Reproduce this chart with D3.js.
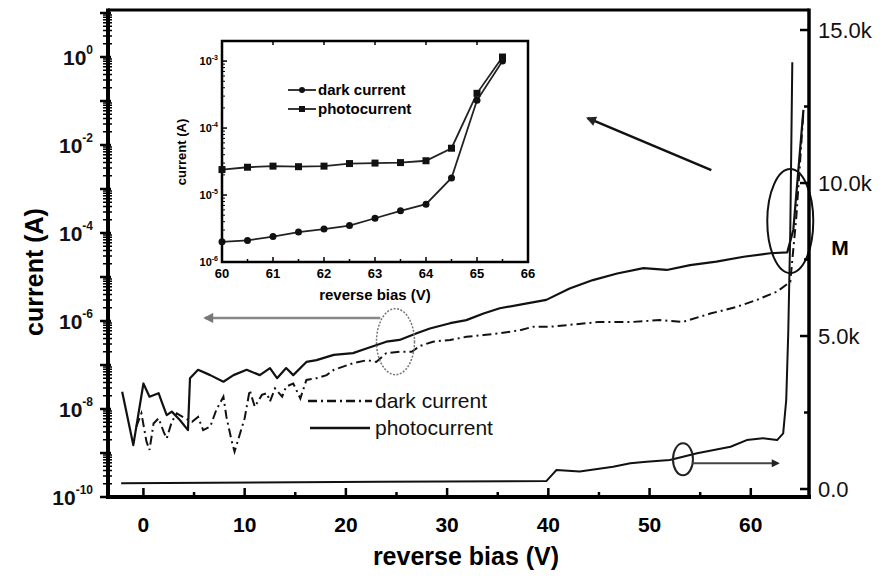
<!DOCTYPE html>
<html>
<head>
<meta charset="utf-8">
<script src="https://cdn.jsdelivr.net/npm/d3@7"></script>
<style>
  body { margin: 0; background: #fff; }
  svg { display: block; font-family: "Liberation Sans", Arial, sans-serif; }
</style>
</head>
<body>
<div id="container"></div>
<script>
// main chart: reverse bias (V) vs current (log10 A)
let photoV = [-2.1,-1.0,0.0,0.6,1.5,1.8,2.3,2.8,3.6,4.4,4.6,5.4,6.6,7.9,8.9,10.2,11.5,12.5,13.2,14.1,14.8,16.1,17.1,18.8,20.7,22.1,24.0,25.3,27.0,28.3,30.3,31.9,33.6,35.2,37.9,39.8,42.1,44.4,46.8,49.4,51.7,54.0,56.6,59.3,61.9,63.6,64.2,65.2];
let photoLogI = [-7.61,-8.82,-7.42,-7.72,-7.64,-7.83,-8.14,-8.06,-8.25,-8.48,-7.30,-7.11,-7.23,-7.38,-7.23,-7.11,-7.23,-7.07,-7.30,-7.07,-7.23,-6.93,-6.89,-6.77,-6.73,-6.62,-6.47,-6.43,-6.28,-6.17,-6.05,-5.98,-5.83,-5.71,-5.60,-5.52,-5.26,-5.07,-4.92,-4.80,-4.84,-4.73,-4.65,-4.54,-4.46,-4.44,-3.93,-1.2];

let darkV = [-0.7,-0.2,0.3,0.6,1.0,1.5,2.0,2.3,2.8,3.3,4.1,4.8,5.4,5.9,6.6,7.2,7.9,8.2,8.7,9.0,9.5,10.0,10.5,11.0,11.7,12.2,12.5,13.0,13.7,14.1,14.8,15.5,16.1,17.1,18.1,18.8,20.7,22.1,23.0,24.0,25.3,26.5,27.3,28.6,30.3,31.9,33.6,35.2,37.2,38.5,40.2,45.1,48.4,51.0,53.3,56.0,58.6,60.6,62.6,63.9,64.5,65.2];
let darkLogI = [-8.40,-8.10,-8.74,-8.93,-8.33,-8.21,-8.52,-8.67,-8.29,-8.10,-8.21,-8.29,-8.18,-8.48,-8.40,-8.02,-7.72,-8.18,-8.71,-8.97,-8.59,-8.21,-7.57,-7.95,-7.68,-7.64,-7.83,-7.53,-7.72,-7.49,-7.42,-7.76,-7.34,-7.30,-7.23,-7.11,-6.96,-6.89,-6.93,-6.73,-6.70,-6.70,-6.57,-6.47,-6.43,-6.36,-6.32,-6.28,-6.21,-6.13,-6.13,-6.02,-6.02,-5.98,-6.02,-5.83,-5.68,-5.52,-5.33,-5.11,-3.63,-1.25];

// gain M (right axis)
let gainV = [-2.2,23.4,39.8,40.5,40.8,43.1,46.4,48.1,49.7,52.0,54.7,58.0,59.6,61.2,62.6,63.2,63.5,63.7,63.9,64.1];
let gainM = [190,240,260,510,620,570,730,840,890,950,1170,1380,1600,1660,1600,1820,2910,5100,8400,13950];

// inset: 60-66 V
let insetV = [60,60.5,61,61.5,62,62.5,63,63.5,64,64.5,65,65.5];
let insetPhoto = [2.4e-5,2.6e-5,2.7e-5,2.65e-5,2.7e-5,2.95e-5,3.0e-5,3.05e-5,3.25e-5,5.0e-5,3.3e-4,1.15e-3];
let insetDark = [2.0e-6,2.1e-6,2.4e-6,2.8e-6,3.1e-6,3.5e-6,4.5e-6,5.8e-6,7.3e-6,1.8e-5,2.6e-4,1.0e-3];

// tick labels
let xTicks = [0,10,20,30,40,50,60];
let yExps = [0,-2,-4,-6,-8,-10];
let mTicks = [0,5000,10000,15000];
let mLabels = ["0.0","5.0k","10.0k","15.0k"];
let insetXTicks = [60,61,62,63,64,65,66];
let insetYExps = [-3,-4,-5,-6];

let w = 885;
let h = 581;
let pLeft = 108, pRight = 809, pTop = 10, pBottom = 497;

let viz = d3.select("#container")
  .append("svg")
    .attr("width", w)
    .attr("height", h)
;
viz.append("rect").attr("width", w).attr("height", h).attr("fill", "white");

let xScale = d3.scaleLinear().domain([-3.5, 65.75]).range([pLeft, pRight]);
let yScale = d3.scaleLog().domain([1e-10, Math.pow(10, 1.068)]).range([pBottom, pTop]);
let mScale = d3.scaleLinear().domain([-261, 15654]).range([pBottom, pTop]);

function zip(xs, ys){
  return xs.map(function(x, i){ return {x: x, y: ys[i]}; });
}
let photoData = zip(photoV, photoLogI.map(function(v){ return Math.pow(10, v); }));
let darkData = zip(darkV, darkLogI.map(function(v){ return Math.pow(10, v); }));
let gainData = zip(gainV, gainM);

// ---- curves
let currentLine = d3.line()
  .x(function(d){ return xScale(d.x); })
  .y(function(d){ return yScale(d.y); })
;
let gainLine = d3.line()
  .x(function(d){ return xScale(d.x); })
  .y(function(d){ return mScale(d.y); })
;

viz.append("path").datum(darkData)
  .attr("d", currentLine).attr("fill", "none").attr("stroke", "#111")
  .attr("stroke-width", 2).attr("stroke-dasharray", "9,4,2,4");
viz.append("path").datum(photoData)
  .attr("d", currentLine).attr("fill", "none").attr("stroke", "#111")
  .attr("stroke-width", 2.2).attr("stroke-linejoin", "round");
viz.append("path").datum(gainData)
  .attr("d", gainLine).attr("fill", "none").attr("stroke", "#111")
  .attr("stroke-width", 2).attr("stroke-linejoin", "round");

// ---- annotations (ellipses and arrows), placed in data units
let defs = viz.append("defs");
function arrowHead(id, color){
  defs.append("marker").attr("id", id)
    .attr("viewBox", "0 0 10 10").attr("refX", 8).attr("refY", 5)
    .attr("markerWidth", 5).attr("markerHeight", 4).attr("orient", "auto")
    .append("path").attr("d", "M0,0 L10,5 L0,10 Z").attr("fill", color);
}
arrowHead("ahGray", "#777");
arrowHead("ahDark", "#222");

// gray arrow -> left axis
viz.append("line")
  .attr("x1", xScale(23.4)).attr("x2", xScale(6.1))
  .attr("y1", yScale(Math.pow(10, -5.93))).attr("y2", yScale(Math.pow(10, -5.93)))
  .attr("stroke", "#888").attr("stroke-width", 2.5).attr("marker-end", "url(#ahGray)");
viz.append("ellipse")
  .attr("cx", xScale(24.9)).attr("cy", yScale(Math.pow(10, -6.47)))
  .attr("rx", 19).attr("ry", 33)
  .attr("fill", "none").attr("stroke", "#777").attr("stroke-width", 1.5).attr("stroke-dasharray", "2,1.5");

// small ellipse on gain curve + arrow -> right axis
viz.append("ellipse")
  .attr("cx", xScale(53.3)).attr("cy", mScale(970))
  .attr("rx", 10).attr("ry", 16)
  .attr("fill", "none").attr("stroke", "#222").attr("stroke-width", 2);
viz.append("line")
  .attr("x1", xScale(54.2)).attr("x2", xScale(62.7))
  .attr("y1", mScale(840)).attr("y2", mScale(840))
  .attr("stroke", "#444").attr("stroke-width", 2).attr("marker-end", "url(#ahDark)");

// big ellipse at breakdown + arrow towards inset
viz.append("ellipse")
  .attr("cx", xScale(63.9)).attr("cy", yScale(Math.pow(10, -3.73)))
  .attr("rx", 23).attr("ry", 52)
  .attr("fill", "none").attr("stroke", "#111").attr("stroke-width", 2);
viz.append("line")
  .attr("x1", xScale(56.1)).attr("x2", xScale(43.9))
  .attr("y1", yScale(Math.pow(10, -2.57))).attr("y2", yScale(Math.pow(10, -1.39)))
  .attr("stroke", "#111").attr("stroke-width", 2.5).attr("marker-end", "url(#ahDark)");

// ---- main legend
let legend = viz.append("g").attr("transform", "translate(308,401)");
legend.append("line").attr("x1", 0).attr("x2", 64).attr("y1", 0).attr("y2", 0)
  .attr("stroke", "#111").attr("stroke-width", 2.5).attr("stroke-dasharray", "9,4,2,4");
legend.append("line").attr("x1", 2).attr("x2", 62).attr("y1", 27).attr("y2", 27)
  .attr("stroke", "#111").attr("stroke-width", 2.5);
legend.append("text").attr("x", 67).attr("y", 7).text("dark current")
  .attr("font-size", 21).attr("fill", "#111");
legend.append("text").attr("x", 67).attr("y", 34).text("photocurrent")
  .attr("font-size", 21).attr("fill", "#111");

// ---- frame and axes
let frame = viz.append("g").attr("stroke", "#000").attr("fill", "none");
frame.append("line").attr("x1", pLeft).attr("x2", pRight).attr("y1", pTop).attr("y2", pTop).attr("stroke-width", 3);
frame.append("line").attr("x1", pLeft).attr("x2", pLeft).attr("y1", pTop - 1.5).attr("y2", pBottom + 2).attr("stroke-width", 4);
frame.append("line").attr("x1", pRight).attr("x2", pRight).attr("y1", pTop - 1.5).attr("y2", pBottom + 2).attr("stroke-width", 3.5);
frame.append("line").attr("x1", pLeft - 2).attr("x2", pRight + 2).attr("y1", pBottom).attr("y2", pBottom).attr("stroke-width", 4);

// x axis ticks (inward)
let xMinor = d3.range(5, 60, 10);
viz.selectAll(".xmaj").data(xTicks).enter().append("line")
  .attr("x1", function(d){ return xScale(d); }).attr("x2", function(d){ return xScale(d); })
  .attr("y1", pBottom).attr("y2", pBottom - 9)
  .attr("stroke", "#000").attr("stroke-width", 2.5);
viz.selectAll(".xmin").data(xMinor).enter().append("line")
  .attr("x1", function(d){ return xScale(d); }).attr("x2", function(d){ return xScale(d); })
  .attr("y1", pBottom).attr("y2", pBottom - 5)
  .attr("stroke", "#000").attr("stroke-width", 2.5);
viz.selectAll(".xlab").data(xTicks).enter().append("text")
  .attr("x", function(d){ return xScale(d); }).attr("y", 532)
  .attr("text-anchor", "middle").attr("font-size", 21).attr("font-weight", "bold")
  .text(function(d){ return d; });

// left log axis: majors every decade, minors 2..9
let decades = d3.range(-10, 2);
let minorVals = [];
decades.forEach(function(e){
  for(let m = 2; m < 10; m++){
    let v = m * Math.pow(10, e);
    if(yScale(v) > pTop + 2) minorVals.push(v);
  }
});
viz.selectAll(".ymaj").data(decades.filter(function(e){ return yScale(Math.pow(10, e)) > pTop; })).enter().append("line")
  .attr("x1", pLeft - 8).attr("x2", pLeft + 3)
  .attr("y1", function(e){ return yScale(Math.pow(10, e)); }).attr("y2", function(e){ return yScale(Math.pow(10, e)); })
  .attr("stroke", "#000").attr("stroke-width", 2.5);
viz.selectAll(".ymin").data(minorVals).enter().append("line")
  .attr("x1", pLeft - 5).attr("x2", pLeft + 4)
  .attr("y1", function(d){ return yScale(d); }).attr("y2", function(d){ return yScale(d); })
  .attr("stroke", "#000").attr("stroke-width", 1.5);
let yLab = viz.selectAll(".ylab").data(yExps).enter().append("text")
  .attr("x", 93).attr("y", function(e){ return yScale(Math.pow(10, e)) + 8; })
  .attr("text-anchor", "end").attr("font-weight", "bold").attr("fill", "#111");
yLab.append("tspan").attr("font-size", 21).text("10");
yLab.append("tspan").attr("font-size", 12).attr("dy", -11).text(function(e){ return e; });

// right M axis (ticks inward)
let mMinor = [2500, 7500, 12500];
viz.selectAll(".mmaj").data(mTicks).enter().append("line")
  .attr("x1", pRight).attr("x2", pRight - 9)
  .attr("y1", function(d){ return mScale(d); }).attr("y2", function(d){ return mScale(d); })
  .attr("stroke", "#000").attr("stroke-width", 2.5);
viz.selectAll(".mmin").data(mMinor).enter().append("line")
  .attr("x1", pRight).attr("x2", pRight - 5)
  .attr("y1", function(d){ return mScale(d); }).attr("y2", function(d){ return mScale(d); })
  .attr("stroke", "#000").attr("stroke-width", 2.5);
viz.selectAll(".mlab").data(mTicks).enter().append("text")
  .attr("x", 818).attr("y", function(d){ return mScale(d) + 8; })
  .attr("font-size", 22).attr("fill", "#111")
  .text(function(d, i){ return mLabels[i]; });

// axis titles
viz.append("text").attr("x", 466).attr("y", 565)
  .attr("text-anchor", "middle").attr("font-size", 25).attr("font-weight", "bold")
  .text("reverse bias (V)");
viz.append("text").attr("transform", "translate(43,272) rotate(-90)")
  .attr("text-anchor", "middle").attr("font-size", 25).attr("font-weight", "bold")
  .text("current (A)");
viz.append("text").attr("x", 840).attr("y", 255)
  .attr("text-anchor", "middle").attr("font-size", 21).attr("font-weight", "bold")
  .text("M");

// ---- inset
let iLeft = 222, iRight = 528, iTop = 41, iBottom = 262;
let ixScale = d3.scaleLinear().domain([60, 66]).range([iLeft, iRight]);
let iyScale = d3.scaleLog().domain([1e-6, Math.pow(10, -2.7)]).range([iBottom, iTop]);
let inset = viz.append("g").attr("class", "inset");

inset.append("rect").attr("x", iLeft).attr("y", iTop)
  .attr("width", iRight - iLeft).attr("height", iBottom - iTop)
  .attr("fill", "white").attr("stroke", "#000").attr("stroke-width", 2.5);

let insetLine = d3.line()
  .x(function(d){ return ixScale(d.x); })
  .y(function(d){ return iyScale(d.y); })
;
let iPhoto = zip(insetV, insetPhoto);
let iDark = zip(insetV, insetDark);
inset.append("path").datum(iPhoto).attr("d", insetLine)
  .attr("fill", "none").attr("stroke", "#222").attr("stroke-width", 1.8);
inset.append("path").datum(iDark).attr("d", insetLine)
  .attr("fill", "none").attr("stroke", "#222").attr("stroke-width", 1.8);
inset.selectAll(".sq").data(iPhoto).enter().append("rect")
  .attr("x", function(d){ return ixScale(d.x) - 3.5; })
  .attr("y", function(d){ return iyScale(d.y) - 3.5; })
  .attr("width", 7).attr("height", 7).attr("fill", "#111");
inset.selectAll(".dot").data(iDark).enter().append("circle")
  .attr("cx", function(d){ return ixScale(d.x); })
  .attr("cy", function(d){ return iyScale(d.y); })
  .attr("r", 3.5).attr("fill", "#111");

// inset ticks
let ixMinor = d3.range(60.5, 66, 1);
inset.selectAll(".ixt").data(insetXTicks.concat(ixMinor)).enter().append("line")
  .attr("x1", function(d){ return ixScale(d); }).attr("x2", function(d){ return ixScale(d); })
  .attr("y1", iBottom).attr("y2", function(d){ return iBottom - (d % 1 === 0 ? 5 : 3); })
  .attr("stroke", "#000").attr("stroke-width", 1.5);
inset.selectAll(".ixtt").data(insetXTicks).enter().append("line")
  .attr("x1", function(d){ return ixScale(d); }).attr("x2", function(d){ return ixScale(d); })
  .attr("y1", iTop).attr("y2", iTop + 4)
  .attr("stroke", "#000").attr("stroke-width", 1.5);
let iMinor = [];
[-6, -5, -4, -3].forEach(function(e){
  for(let m = 2; m < 10; m++){
    let v = m * Math.pow(10, e);
    if(iyScale(v) > iTop + 2) iMinor.push(v);
  }
});
inset.selectAll(".iyt").data(insetYExps).enter().append("line")
  .attr("x1", iLeft).attr("x2", iLeft + 5)
  .attr("y1", function(e){ return iyScale(Math.pow(10, e)); }).attr("y2", function(e){ return iyScale(Math.pow(10, e)); })
  .attr("stroke", "#000").attr("stroke-width", 1.5);
inset.selectAll(".iym").data(iMinor).enter().append("line")
  .attr("x1", iLeft).attr("x2", iLeft + 3)
  .attr("y1", function(d){ return iyScale(d); }).attr("y2", function(d){ return iyScale(d); })
  .attr("stroke", "#000").attr("stroke-width", 1);

inset.selectAll(".ixl").data(insetXTicks).enter().append("text")
  .attr("x", function(d){ return ixScale(d); }).attr("y", 278)
  .attr("text-anchor", "middle").attr("font-size", 13).attr("font-weight", "bold")
  .text(function(d){ return d; });
let iyLab = inset.selectAll(".iyl").data(insetYExps).enter().append("text")
  .attr("x", 218).attr("y", function(e){ return iyScale(Math.pow(10, e)) + 4; })
  .attr("text-anchor", "end").attr("font-weight", "bold");
iyLab.append("tspan").attr("font-size", 11).text("10");
iyLab.append("tspan").attr("font-size", 7).attr("dy", -5).text(function(e){ return e; });

inset.append("text").attr("x", 375).attr("y", 300)
  .attr("text-anchor", "middle").attr("font-size", 15).attr("font-weight", "bold")
  .text("reverse bias (V)");
inset.append("text").attr("transform", "translate(186,152) rotate(-90)")
  .attr("text-anchor", "middle").attr("font-size", 13).attr("font-weight", "bold")
  .text("current (A)");

// inset legend
let iLeg = inset.append("g").attr("transform", "translate(288,90)");
iLeg.append("line").attr("x1", 0).attr("x2", 28).attr("y1", 0).attr("y2", 0).attr("stroke", "#222").attr("stroke-width", 1.8);
iLeg.append("circle").attr("cx", 14).attr("cy", 0).attr("r", 3).attr("fill", "#111");
iLeg.append("line").attr("x1", 0).attr("x2", 28).attr("y1", 19).attr("y2", 19).attr("stroke", "#222").attr("stroke-width", 1.8);
iLeg.append("rect").attr("x", 11).attr("y", 16).attr("width", 6).attr("height", 6).attr("fill", "#111");
iLeg.append("text").attr("x", 30).attr("y", 5).attr("font-size", 15).attr("font-weight", "bold").text("dark current");
iLeg.append("text").attr("x", 30).attr("y", 24).attr("font-size", 15).attr("font-weight", "bold").text("photocurrent");
</script>
</body>
</html>
